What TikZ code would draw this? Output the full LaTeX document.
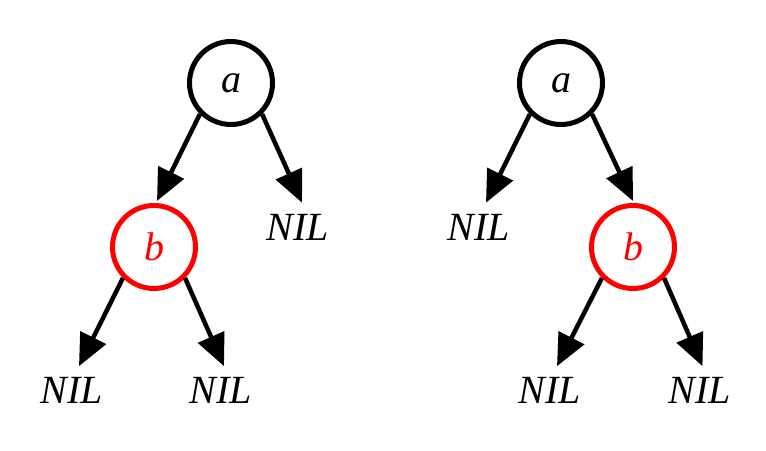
\documentclass[tikz,border=0pt]{standalone}
\usepackage{fontspec}
\setmainfont{Liberation Serif}
\usetikzlibrary{arrows.meta,calc}
\tikzset{
  vert/.style={circle, draw=black, line width=5pt, minimum size=83pt, inner sep=0pt,
    font=\fontsize{40}{46}\selectfont\itshape},
  redvert/.style={vert, draw=red, text=red},
  nil/.style={inner sep=0pt, font=\fontsize{40}{46}\selectfont\itshape},
  edge/.style={line width=4.5pt, -{Triangle[length=32pt,width=28pt]}}
}
\begin{document}
\begin{tikzpicture}[x=1pt,y=-1pt]
\useasboundingbox (0,0) rectangle (766,450);
% left tree
\node[vert] (a1) at (231,83) {a};
\node[redvert] (b1) at (154,247) {b};
\node[nil] (n1) at (298,227) {NIL};
\node[nil] (n2) at (72,390.5) {NIL};
\node[nil] (n3) at (221,390.5) {NIL};
\draw[edge] (a1.225) -- ($(b1.north)+(3,-2)$);
\draw[edge] (a1.-45) -- ($(n1.north)+(4,-11)$);
\draw[edge] (b1.225) -- ($(n2.north)+(7,-11)$);
\draw[edge] (b1.-45) -- ($(n3.north)+(3,-11)$);
% right tree
\node[vert] (a2) at (561,83) {a};
\node[redvert] (b2) at (633,247) {b};
\node[nil] (n4) at (479,227) {NIL};
\node[nil] (n5) at (550,390.5) {NIL};
\node[nil] (n6) at (699.5,390.5) {NIL};
\draw[edge] (a2.225) -- ($(n4.north)+(7,-11)$);
\draw[edge] (a2.-45) -- ($(b2.north)+(0,-2)$);
\draw[edge] (b2.225) -- ($(n5.north)+(7,-11)$);
\draw[edge] (b2.-45) -- ($(n6.north)+(3,-11)$);
\end{tikzpicture}
\end{document}
